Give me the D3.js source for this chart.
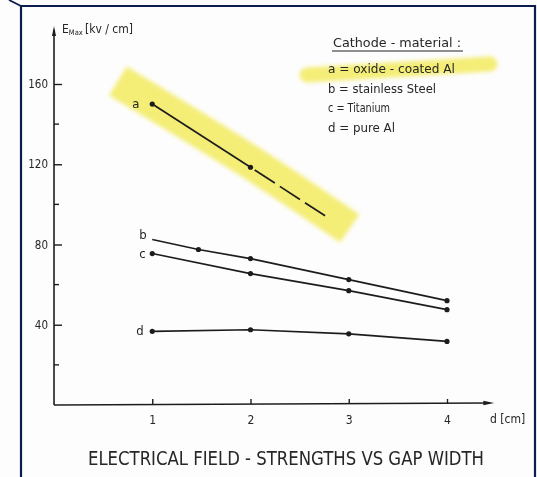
<!DOCTYPE html>
<html>
<head>
<meta charset="utf-8">
<script src="https://cdn.jsdelivr.net/npm/d3@7"></script>
<style>
  html, body { margin: 0; padding: 0; background: #fff; }
  svg { display: block; }
  text { font-family: "DejaVu Sans Condensed", "DejaVu Sans", sans-serif; fill: #262626; }
</style>
</head>
<body>
<svg id="chart" width="537" height="477"></svg>
<script>
// Gap width d [cm] and maximum field strength E_max [kV/cm] per cathode material
const gapWidths = [1, 2, 3, 4];
const seriesA = [150, 118.5];            // oxide-coated Al, measured at d = 1, 2
const seriesAExtX = [2, 2.8];            // extrapolated continuation (dashed)
const seriesAExt = [118.5, 93];
const seriesBX = [1, 1.47, 2, 3, 4];     // stainless steel (extra reading near 1.5 cm)
const seriesB = [82.5, 77.5, 73, 62.5, 52];
const seriesC = [75.5, 65.5, 57, 47.5];  // titanium
const seriesD = [36.7, 37.5, 35.5, 31.7];// pure Al

const yMajorTicks = [40, 80, 120, 160];
const yMinorTicks = [20, 60, 100, 140];
const xTicks = [1, 2, 3, 4];

const legendTitle = "Cathode - material :";
const legendItems = ["a = oxide - coated Al", "b = stainless Steel", "c = Titanium", "d = pure Al"];
const seriesLetters = ["a", "b", "c", "d"];
const chartTitle = "ELECTRICAL  FIELD - STRENGTHS  VS  GAP  WIDTH";

const svg = d3.select("#chart");
const ink = "#1e1e1e";

// background
svg.append("rect").attr("width", 537).attr("height", 477).attr("fill", "#fdfdfd");

const defs = svg.append("defs");
defs.append("filter").attr("id", "soft").attr("x", "-5%").attr("y", "-5%").attr("width", "110%").attr("height", "110%")
  .append("feGaussianBlur").attr("stdDeviation", 0.45);
defs.append("filter").attr("id", "marker-blur").attr("x", "-20%").attr("y", "-50%").attr("width", "140%").attr("height", "200%")
  .append("feGaussianBlur").attr("stdDeviation", 2.2);

const x = d3.scaleLinear().domain([0, 4]).range([54, 447]);
const y = d3.scaleLinear().domain([0, 160]).range([405, 84]);

// highlighter strokes
const hl = svg.append("g").attr("filter", "url(#marker-blur)").attr("opacity", 0.75);
hl.append("path")
  .attr("d", d3.line().curve(d3.curveNatural)([[x(0.65), y(161.5)], [x(2.0), y(121)], [x(3.01), y(88)]]))
  .attr("fill", "none").attr("stroke", "#f1e84a").attr("stroke-width", 34).attr("stroke-linecap", "butt");
hl.append("path")
  .attr("d", d3.line()([[307, 75], [490, 64]]))
  .attr("fill", "none").attr("stroke", "#f1e84a").attr("stroke-width", 15).attr("stroke-linecap", "round");

const g = svg.append("g").attr("filter", "url(#soft)");

// y axis with arrow
g.append("line").attr("x1", x(0)).attr("x2", x(0)).attr("y1", y(0)).attr("y2", 30)
  .attr("stroke", ink).attr("stroke-width", 1.6);
g.append("path").attr("d", `M${x(0) - 2},36 L${x(0)},26 L${x(0) + 2},36 Z`).attr("fill", ink);

const yAxis = d3.axisLeft(y).tickValues(yMajorTicks).tickSize(-8).tickPadding(6).tickFormat(d3.format("d"));
const ya = g.append("g").attr("transform", `translate(${x(0)},0)`).call(yAxis);
ya.select(".domain").remove();
ya.selectAll(".tick line").attr("stroke", ink).attr("stroke-width", 1.4);
ya.selectAll(".tick text").style("font-size", "11.5px").attr("fill", "#262626");
g.append("g").selectAll("line").data(yMinorTicks).join("line")
  .attr("x1", x(0)).attr("x2", x(0) + 5).attr("y1", d => y(d)).attr("y2", d => y(d))
  .attr("stroke", ink).attr("stroke-width", 1.4);

// x axis with arrow
g.append("line").attr("x1", x(0)).attr("x2", x(4.43)).attr("y1", y(0)).attr("y2", y(0) - 2)
  .attr("stroke", ink).attr("stroke-width", 1.6);
g.append("path").attr("d", `M${x(4.37)},${y(0) - 4.2} L${x(4.48)},${y(0) - 2} L${x(4.37)},${y(0) + 0.2} Z`).attr("fill", ink);
const xAxis = d3.axisBottom(x).tickValues(xTicks).tickSize(-5).tickPadding(11).tickFormat(d3.format("d"));
const xa = g.append("g").attr("transform", `translate(0,${y(0) - 1})`).call(xAxis);
xa.select(".domain").remove();
xa.selectAll(".tick line").attr("stroke", ink).attr("stroke-width", 1.4);
xa.selectAll(".tick text").style("font-size", "12px").attr("fill", "#262626");

// axis titles
const yt = g.append("text").attr("x", 62).attr("y", 33).style("font-size", "12px");
yt.append("tspan").text("E");
yt.append("tspan").attr("dy", 2).style("font-size", "7.5px").text("Max ");
yt.append("tspan").attr("dy", -2).text("[kv / cm]");
g.append("text").attr("x", 490).attr("y", 423).style("font-size", "12px").text("d [cm]");

// series lines
const line = d3.line();
function drawSeries(xs, vs, dash) {
  const pts = xs.map((d, i) => [x(d), y(vs[i])]);
  const p = g.append("path").attr("d", line(pts)).attr("fill", "none")
    .attr("stroke", ink).attr("stroke-width", 1.7);
  if (dash) p.attr("stroke-dasharray", "24 6").attr("stroke-dashoffset", 25);
  return pts;
}
function drawDots(pts) {
  g.append("g").selectAll("circle").data(pts).join("circle")
    .attr("cx", d => d[0]).attr("cy", d => d[1]).attr("r", 2.6).attr("fill", ink);
}

const ptsA = drawSeries(gapWidths.slice(0, 2), seriesA);
drawSeries(seriesAExtX, seriesAExt, true);
drawDots(ptsA);
const ptsB = drawSeries(seriesBX, seriesB);
drawDots(ptsB.slice(1));
const ptsC = drawSeries(gapWidths, seriesC);
drawDots(ptsC);
const ptsD = drawSeries(gapWidths, seriesD);
drawDots(ptsD);

// series letters
const letterPos = [[ptsA[0], -20, 4], [ptsB[0], -13, 0], [ptsC[0], -13, 4], [ptsD[0], -16, 4]];
g.append("g").selectAll("text").data(seriesLetters).join("text")
  .attr("x", (d, i) => letterPos[i][0][0] + letterPos[i][1])
  .attr("y", (d, i) => letterPos[i][0][1] + letterPos[i][2])
  .style("font-size", "13px").text(d => d);

// legend
g.append("text").attr("x", 333).attr("y", 47).style("font-size", "13px")
  .attr("textLength", 128).attr("lengthAdjust", "spacingAndGlyphs").text(legendTitle);
g.append("line").attr("x1", 332).attr("x2", 463).attr("y1", 51).attr("y2", 51)
  .attr("stroke", ink).attr("stroke-width", 1.2);
const legendLens = [127, 108, 62, 67];
g.append("g").selectAll("text").data(legendItems).join("text")
  .attr("x", 328).attr("y", (d, i) => 73 + i * 19.7)
  .style("font-size", "13px")
  .attr("textLength", (d, i) => legendLens[i]).attr("lengthAdjust", "spacingAndGlyphs")
  .text(d => d);

// chart title
g.append("text").attr("x", 88).attr("y", 465).style("font-size", "20px")
  .attr("textLength", 396).attr("lengthAdjust", "spacingAndGlyphs").attr("fill", "#2a2a2a")
  .text(chartTitle);

// frame
const frame = "#0b1d4d";
svg.append("path").attr("d", "M21,477 L21,6 L535,6 L535,477").attr("fill", "none")
  .attr("stroke", frame).attr("stroke-width", 2.2);
svg.append("line").attr("x1", 9).attr("y1", 0).attr("x2", 21).attr("y2", 6)
  .attr("stroke", frame).attr("stroke-width", 1.8);
</script>
</body>
</html>
